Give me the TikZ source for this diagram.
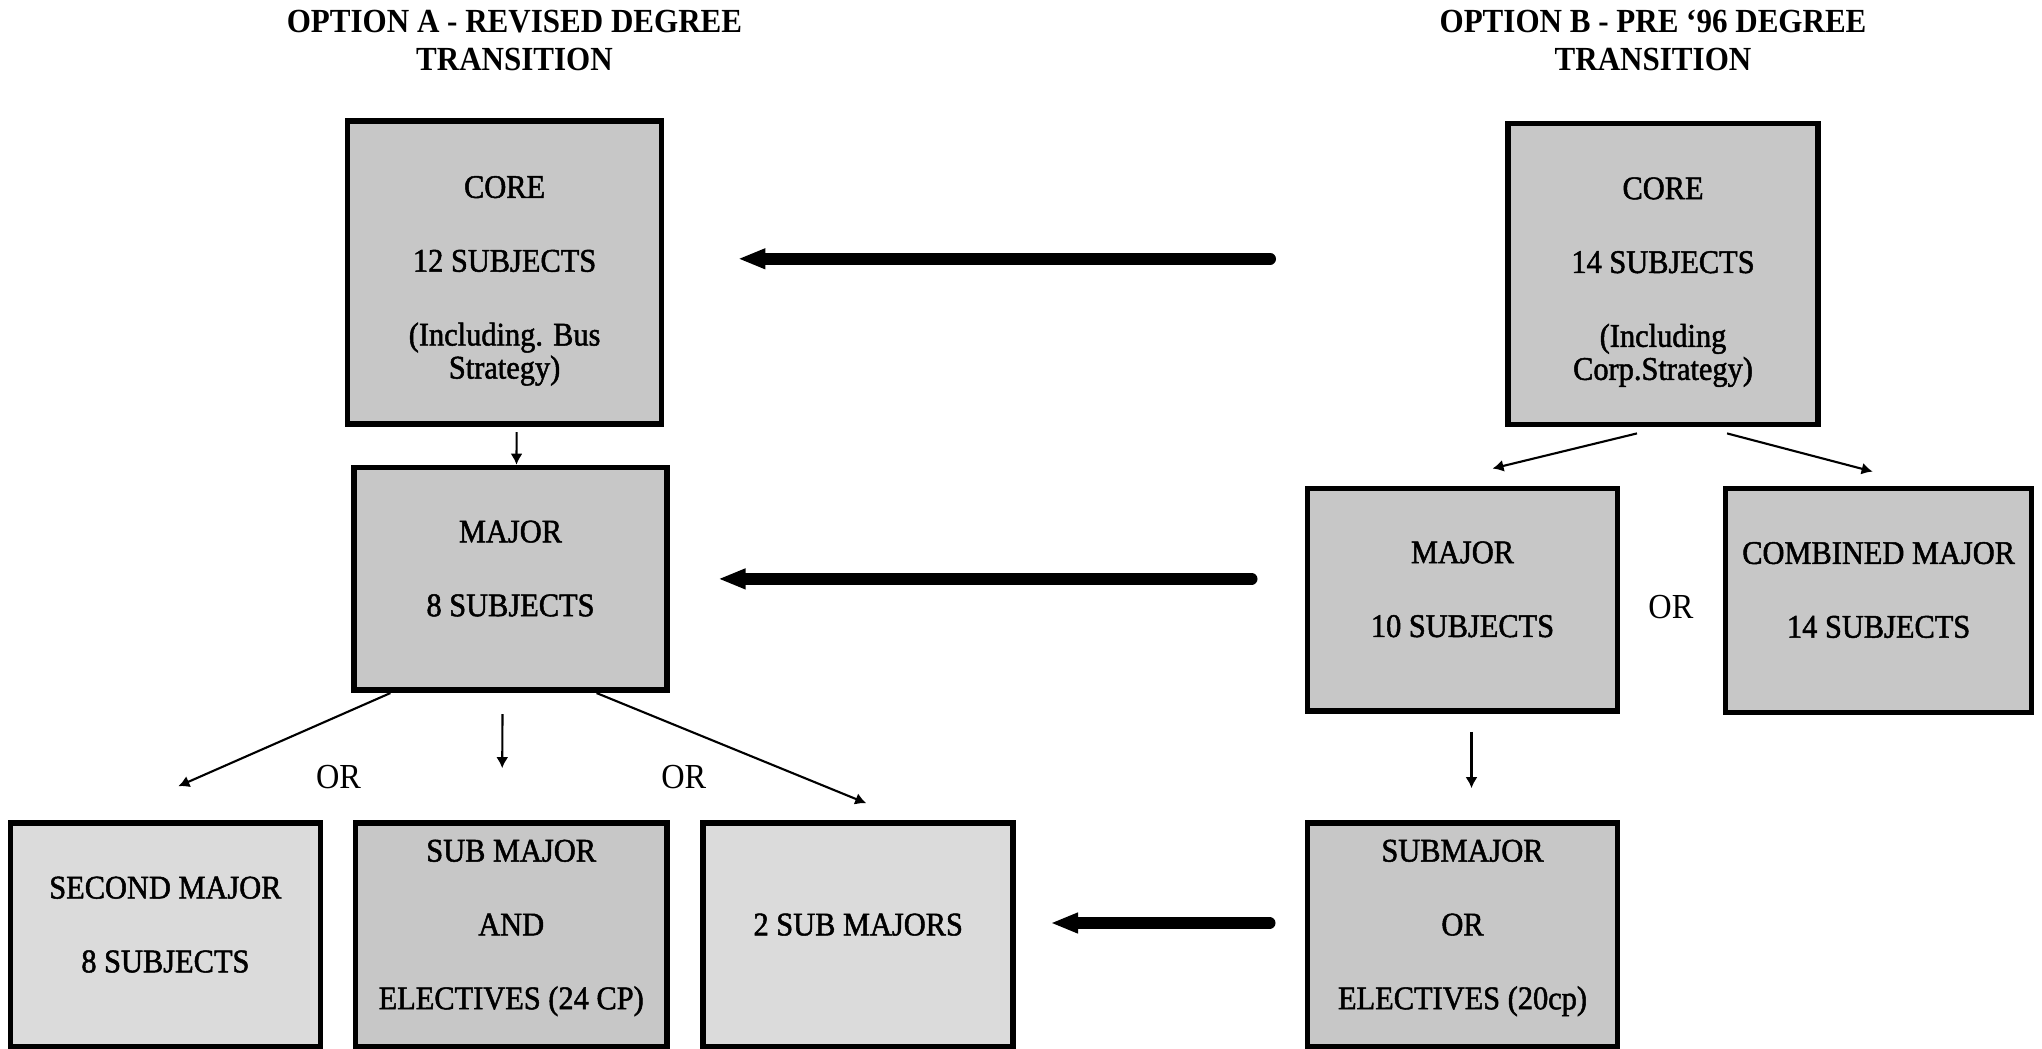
\documentclass[tikz,border=0pt]{standalone}
\usepackage{fontspec}
\setmainfont{Liberation Serif}[FakeStretch=0.92]
\newfontfamily\boxfont{Liberation Serif}[FakeStretch=0.92, FakeBold=1.5]
\usetikzlibrary{arrows.meta}

\begin{document}
\begin{tikzpicture}[box/.style = {shape=rectangle, draw, line width=1.6pt, fill=black!22, align=center, inner sep=0pt, minimum width=3.1cm, font=\boxfont\fontsize{9.4}{9.4}\selectfont}, lightbox/.style = {box, fill=black!14}, lifted/.style = {execute at end node={\rule[-6pt]{0pt}{0pt}}}, heading/.style = {align=center, inner sep=0pt, font=\fontsize{9.6}{10.8}\selectfont\bfseries}, orlabel/.style = {inner sep=0pt, font=\fontsize{10}{10}\selectfont}, thinarrow/.style = {-{Latex[length=1.1mm,width=1.2mm]}, line width=0.6pt}, bigarrow/.style = {-{Triangle[length=2.6mm,width=2.1mm,line width=0.4pt]}, line width=3.3pt, line cap=round}]
\useasboundingbox (0,0) rectangle (20.42,-10.49);
\node[heading] (headA) at (5.145,-0.405) {OPTION A - REVISED DEGREE\\TRANSITION};
\node[heading] (headB) at (16.53,-0.405) {OPTION B - PRE `96 DEGREE\\TRANSITION};
\node[box, minimum width=3.14cm, minimum height=3.03cm] (coreA) at (5.046,-2.728) {\rule{0pt}{10.8pt}CORE\\[11.6pt]12 SUBJECTS\\[11.6pt](Including. Bus\\Strategy)};
\node[box, minimum height=3.01cm] (coreB) at (16.63,-2.741) {\rule{0pt}{10.8pt}CORE\\[11.6pt]14 SUBJECTS\\[11.6pt](Including\\Corp.Strategy)};
\node[box, lifted, minimum width=3.126cm, minimum height=2.227cm] (majorA) at (5.105,-5.789) {MAJOR\\[11.6pt]8 SUBJECTS};
\node[box, lifted, minimum height=2.227cm] (majorB) at (14.625,-5.997) {MAJOR\\[11.6pt]10 SUBJECTS};
\node[box, lifted, minimum width=3.06cm, minimum height=2.24cm] (combined) at (18.786,-6.004) {COMBINED MAJOR\\[11.6pt]14 SUBJECTS};
\node[lightbox, lifted, minimum height=2.24cm] (secondA) at (1.654,-9.35) {SECOND MAJOR\\[11.6pt]8 SUBJECTS};
\node[box, lifted, minimum width=3.113cm, minimum height=2.24cm] (subA) at (5.112,-9.35) {SUB MAJOR\\[11.6pt]AND\\[11.6pt]ELECTIVES (24 CP)};
\node[lightbox, lifted, minimum height=2.24cm] (twoSubA) at (8.582,-9.35) {2 SUB MAJORS};
\node[box, lifted, minimum height=2.24cm] (subB) at (14.625,-9.35) {SUBMAJOR\\[11.6pt]OR\\[11.6pt]ELECTIVES (20cp)};
\node[orlabel] (orA) at (3.386,-7.77) {OR};
\node[orlabel] (orB) at (6.837,-7.77) {OR};
\node[orlabel] (orC) at (16.709,-6.069) {OR};
\draw[thinarrow] ([shift={(1.2mm,-0.5mm)}]coreA.south) -- ([xshift=0.6mm]majorA.north);
\draw[thinarrow] ([xshift=3.9mm]majorA.south west) -- ([shift={(1.3mm,3.4mm)}]secondA.north);
\draw[thinarrow] ([shift={(-0.8mm,-2.1mm)}]majorA.south) -- ([shift={(-0.9mm,5.2mm)}]subA.north);
\draw[thinarrow] ([xshift=-7.3mm]majorA.south east) -- ([shift={(0.8mm,1.7mm)}]twoSubA.north);
\draw[thinarrow] ([shift={(-2.6mm,-0.6mm)}]coreB.south) -- ([shift={(3mm,1.7mm)}]majorB.north);
\draw[thinarrow] ([shift={(6.4mm,-0.6mm)}]coreB.south) -- ([shift={(-0.6mm,1.4mm)}]combined.north);
\draw[thinarrow] ([shift={(0.9mm,-1.8mm)}]majorB.south) -- ([shift={(0.9mm,3.2mm)}]subB.north);
\coordinate (levelA) at ([yshift=1.4mm]coreA.east);
\coordinate (levelC) at ([yshift=1.2mm]twoSubA.east);
\draw[bigarrow, shorten <=2.35cm, shorten >=7.5mm] (levelA -| coreB.west) -- (levelA);
\draw[bigarrow, shorten <=5.3mm, shorten >=5mm] (majorB.west |- majorA.east) -- (majorA.east);
\draw[bigarrow, shorten <=3.5mm, shorten >=3.6mm] (levelC -| subB.west) -- (levelC);
\end{tikzpicture}
\end{document}
